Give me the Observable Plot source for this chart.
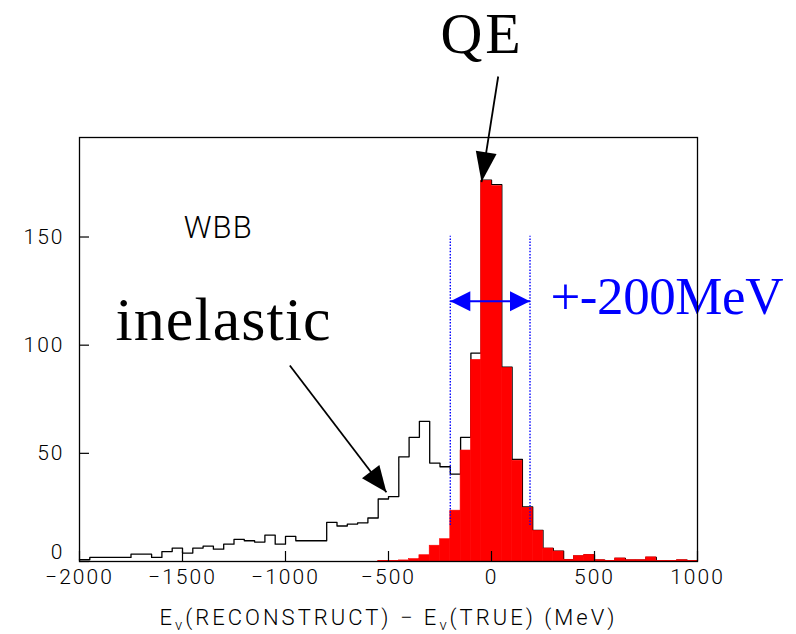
<!DOCTYPE html>
<html><head><meta charset="utf-8">
<script src="https://cdn.jsdelivr.net/npm/d3@7"></script>
<script src="https://cdn.jsdelivr.net/npm/@observablehq/plot@0.6"></script>
<style>
body{margin:0;background:#fff}
svg{display:block}
g[aria-label="x-axis tick label"] text, g[aria-label="y-axis tick label"] text{letter-spacing:2px}
</style>
</head><body><div id="chart"></div>
<script>
// ---- data ----
const binLo = [-2000,-1950,-1900,-1850,-1800,-1750,-1700,-1650,-1600,-1550,
  -1500,-1450,-1400,-1350,-1300,-1250,-1200,-1150,-1100,-1050,
  -1000,-950,-900,-850,-800,-750,-700,-650,-600,-550,
  -500,-450,-400,-350,-300,-250,-200,-150,-100,-50,
  0,50,100,150,200,250,300,350,400,450,
  500,550,600,650,700,750,800,850,900,950];
const binWidth = 50;
const allEvents = [0.8,1.9,1.9,1.9,1.9,3.4,3.4,1.9,4.6,6.2,
  3.9,6.2,7.1,5.7,8.0,10.2,9.6,9.0,12.2,8.0,
  11.6,9.6,9.6,9.6,18.1,16.4,17.3,17.9,20.1,28.9,
  30.0,48.4,57.4,64.8,45.5,43.8,40.4,57.4,96.3,176.3,
  174.2,89.8,47.2,25.2,14.4,6.1,4.8,0.8,2.5,3.1,
  0.6,0.3,1.4,0.6,0.6,1.9,0.2,0.2,0.6,0.2];
const qeEvents = [0,0,0,0,0,0,0,0,0,0,
  0,0,0,0,0,0,0,0,0,0,
  0,0,0,0,0,0,0,0,0,0.3,
  0.3,0.5,1.1,2.9,7.3,10.3,23.5,51.3,93.2,176.0,
  173.5,89.5,46.6,24.8,14.2,6.0,4.6,0.8,2.5,3.1,
  0.6,0.3,1.4,0.6,0.6,1.9,0.2,0.2,0.6,0.2];
const xTicks = [-2000,-1500,-1000,-500,0,500,1000];
const yTicks = [0,50,100,150];
const xDomain = [-2000, 1000];
const yDomain = [0, 196];
const windowEdges = [-200, 187];
const windowSpan = [16.6, 150.3];
const windowArrowY = [120.3];
const qeArrow = [{x1: 32.5, y1: 224.2, x2: -48.5, y2: 175.4}];
const inelasticArrow = [{x1: -979, y1: 90.6, x2: -510, y2: 32.0}];
const qeLabel = [{text: "QE", x: -53, y: 234.9}];
const inelasticLabel = [{text: "inelastic", x: -1825, y: 102.2}];
const windowLabel = [{text: "+-200MeV", x: 286, y: 114.5}];
const sampleLabel = [{text: "WBB", x: -1494, y: 149.7}];

// ---- layout ----
const W = 796, H = 634, ML = 79, MR = 99, MT = 137, MB = 73;
const kx = (W - ML - MR) / (xDomain[1] - xDomain[0]);
const ky = (H - MT - MB) / (yDomain[1] - yDomain[0]);
const angleOf = a => Math.atan2((a.x2 - a.x1) * kx, (a.y2 - a.y1) * ky) * 180 / Math.PI;

function headSymbol(ratio) {
  return {draw(ctx, size) {
    const L = Math.sqrt(size / Math.PI), w = L * ratio;
    ctx.moveTo(0, 0); ctx.lineTo(-w, L); ctx.lineTo(w, L); ctx.closePath();
  }};
}

const bins = binLo.map((lo, i) => ({lo, hi: lo + binWidth, all: allEvents[i], qe: qeEvents[i]}));
const stepPts = bins.map(d => ({x: d.lo, y: d.all})).concat([{x: binLo[binLo.length - 1] + binWidth, y: allEvents[allEvents.length - 1]}]);
const fmt = d => (d < 0 ? "\u2212" : "") + Math.abs(d);
const serif = "Liberation Serif, Times New Roman, serif";
const BLUE = "#0000ff", RED = "#ff0000";

const plot = Plot.plot({
  width: W, height: H,
  marginLeft: ML, marginRight: MR, marginTop: MT, marginBottom: MB,
  x: {domain: xDomain, label: null},
  y: {domain: yDomain, label: null},
  style: {fontFamily: "Roboto, sans-serif", fontSize: "21px", fontWeight: 300, background: "#fff", color: "#000", overflow: "visible"},
  marks: [
    Plot.line(stepPts, {x: "x", y: "y", curve: "step-after", stroke: "#000", strokeWidth: 1.3}),
    Plot.rectY(bins, {x1: "lo", x2: "hi", y: "qe", fill: RED, stroke: RED, strokeWidth: 0.6}),
    Plot.ruleX(windowEdges, {y1: windowSpan[0], y2: windowSpan[1], stroke: BLUE, strokeWidth: 1.4, strokeDasharray: "1.5 1.6"}),
    Plot.link(windowArrowY, {x1: windowEdges[0], x2: windowEdges[1], y1: d => d, y2: d => d, stroke: BLUE, strokeWidth: 2}),
    Plot.dot(windowArrowY, {x: windowEdges[1], y: d => d, r: 20, symbol: headSymbol(0.5), fill: BLUE, stroke: "none", rotate: 90}),
    Plot.dot(windowArrowY, {x: windowEdges[0], y: d => d, r: 20, symbol: headSymbol(0.5), fill: BLUE, stroke: "none", rotate: -90}),
    Plot.link(qeArrow, {x1: "x1", y1: "y1", x2: "x2", y2: "y2", stroke: "#000", strokeWidth: 1.8}),
    Plot.dot(qeArrow, {x: "x2", y: "y2", r: 30, symbol: headSymbol(0.35), fill: "#000", stroke: "none", rotate: angleOf(qeArrow[0])}),
    Plot.link(inelasticArrow, {x1: "x1", y1: "y1", x2: "x2", y2: "y2", stroke: "#000", strokeWidth: 1.8}),
    Plot.dot(inelasticArrow, {x: "x2", y: "y2", r: 26, symbol: headSymbol(0.42), fill: "#000", stroke: "none", rotate: angleOf(inelasticArrow[0])}),
    Plot.text(qeLabel, {x: "x", y: "y", text: "text", textAnchor: "middle", lineAnchor: "bottom", fontFamily: serif, fontSize: 58, fontWeight: 400, fill: "#000"}),
    Plot.text(inelasticLabel, {x: "x", y: "y", text: "text", textAnchor: "start", lineAnchor: "bottom", fontFamily: serif, fontSize: 62, fontWeight: 400, fill: "#000"}),
    Plot.text(windowLabel, {x: "x", y: "y", text: "text", textAnchor: "start", lineAnchor: "bottom", fontFamily: serif, fontSize: 53, fontWeight: 400, fill: BLUE}),
    Plot.text(sampleLabel, {x: "x", y: "y", text: "text", textAnchor: "start", lineAnchor: "bottom", fontSize: 31, fontWeight: 300, fill: "#000"}),
    Plot.axisX(xTicks, {tickSize: -10, fill: "none", stroke: "#000", strokeWidth: 1.2, label: null}),
    Plot.axisX(xTicks, {tickSize: 0, tickPadding: 8, tickFormat: fmt, fill: "#000", label: "E(RECONSTRUCT) \u2212 E(TRUE) (MeV)", labelAnchor: "center", labelOffset: 63}),
    Plot.axisY(yTicks, {tickSize: -10, fill: "none", stroke: "#000", strokeWidth: 1.2, label: null}),
    Plot.axisY(yTicks.filter(d => d !== 0), {tickSize: 0, tickPadding: 15, tickFormat: fmt, fill: "#000", label: null}),
    Plot.axisY(yTicks.filter(d => d === 0), {tickSize: 0, tickPadding: 15, tickFormat: fmt, fill: "#000", label: null, dy: -9}),
    Plot.frame({stroke: "#000", strokeWidth: 1.3})
  ]
});
document.getElementById("chart").append(plot);

// fit annotation widths to the reference
const fitWidths = {"QE": 80, "inelastic": 215, "+-200MeV": 233, "WBB": 68};
d3.select(plot).selectAll("text").each(function () {
  const t = this.textContent;
  if (fitWidths[t] && this.children.length === 0) {
    this.setAttribute("textLength", fitWidths[t]);
    this.setAttribute("lengthAdjust", "spacing");
  }
});

// axis title with ν subscripts
const lab = d3.select(plot).select('g[aria-label="x-axis label"] text');
if (!lab.empty()) {
  const parts = [["E", false], ["\u03bd", true], ["(RECONSTRUCT) \u2212 E", false], ["\u03bd", true], ["(TRUE) (MeV)", false]];
  lab.text(null).attr("font-size", "22px").attr("font-weight", 300);
  let prevSub = false, nChars = 0;
  for (const [s, sub] of parts) {
    const ts = lab.append("tspan").text(s);
    if (sub) ts.attr("font-size", "15px").attr("dy", 5);
    else if (prevSub) ts.attr("dy", -5);
    prevSub = sub; nChars += s.length;
  }
  const n = lab.node().getComputedTextLength();
  lab.style("letter-spacing", ((458 - n) / nChars) + "px");
}
</script>
</body></html>
